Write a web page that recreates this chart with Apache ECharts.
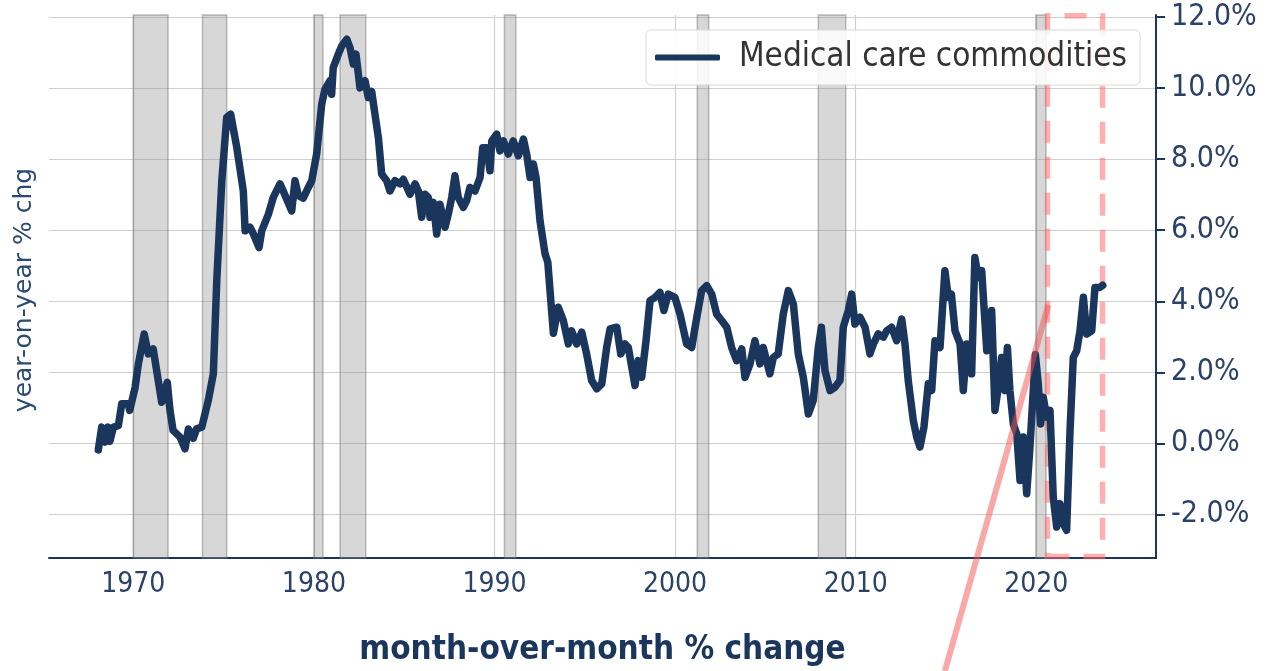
<!DOCTYPE html>
<html>
<head>
<meta charset="utf-8">
<script src="https://cdn.jsdelivr.net/npm/echarts@6/dist/echarts.min.js"></script>
<style>
  html, body { margin: 0; padding: 0; background: #fff; }
  #chart { width: 1270px; height: 671px; }
</style>
</head>
<body>
<div id="chart"></div>
<script>
// decimal year / yoy %
const years = [
  1968.06, 1968.25, 1968.43, 1968.6, 1968.7, 1968.9, 1969.17, 1969.36, 1969.72, 1969.8,
  1970.1, 1970.28, 1970.6, 1970.83, 1971.1, 1971.38, 1971.57, 1971.88, 1972.03, 1972.2,
  1972.59, 1972.86, 1973.05, 1973.32, 1973.5, 1973.79, 1974.15, 1974.43, 1974.62, 1974.9,
  1975.17, 1975.39, 1975.73, 1976.09, 1976.19, 1976.46, 1976.65, 1976.96, 1977.11, 1977.48,
  1977.75, 1978.12, 1978.3, 1978.77, 1978.95, 1979.14, 1979.41, 1979.69, 1979.88, 1980.15,
  1980.43, 1980.61, 1980.89, 1980.98, 1981.07, 1981.35, 1981.54, 1981.82, 1982.0, 1982.18,
  1982.33, 1982.55, 1982.83, 1983.01, 1983.2, 1983.38, 1983.57, 1983.75, 1984.03, 1984.21,
  1984.49, 1984.77, 1984.95, 1985.32, 1985.6, 1985.78, 1985.97, 1986.15, 1986.33, 1986.43,
  1986.61, 1986.8, 1986.98, 1987.26, 1987.44, 1987.63, 1987.81, 1987.99, 1988.27, 1988.46,
  1988.64, 1988.92, 1989.2, 1989.35, 1989.57, 1989.75, 1989.85, 1990.12, 1990.3, 1990.49,
  1990.76, 1991.04, 1991.32, 1991.6, 1991.78, 1991.97, 1992.15, 1992.3, 1992.52, 1992.8,
  1992.95, 1993.26, 1993.53, 1993.81, 1994.09, 1994.27, 1994.55, 1994.83, 1995.1, 1995.38,
  1995.66, 1995.94, 1996.21, 1996.4, 1996.77, 1996.99, 1997.23, 1997.41, 1997.78, 1997.96,
  1998.15, 1998.39, 1998.61, 1998.89, 1999.16, 1999.38, 1999.62, 1999.99, 2000.27, 2000.64,
  2000.92, 2001.2, 2001.47, 2001.75, 2002.03, 2002.3, 2002.58, 2002.86, 2003.13, 2003.41,
  2003.69, 2003.87, 2004.15, 2004.42, 2004.7, 2004.88, 2005.25, 2005.44, 2005.71, 2005.99,
  2006.27, 2006.55, 2006.82, 2007.1, 2007.38, 2007.65, 2007.93, 2008.1, 2008.3, 2008.58,
  2008.85, 2009.13, 2009.31, 2009.59, 2009.78, 2009.96, 2010.24, 2010.52, 2010.79, 2010.98,
  2011.25, 2011.53, 2011.72, 2011.99, 2012.27, 2012.55, 2012.73, 2012.91, 2013.19, 2013.38,
  2013.56, 2013.78, 2014.02, 2014.21, 2014.39, 2014.67, 2014.94, 2015.13, 2015.3, 2015.5,
  2015.78, 2015.96, 2016.15, 2016.42, 2016.6, 2016.79, 2016.98, 2017.07, 2017.26, 2017.53,
  2017.71, 2017.9, 2018.08, 2018.27, 2018.4, 2018.54, 2018.73, 2018.92, 2019.1, 2019.28,
  2019.47, 2019.65, 2019.95, 2020.11, 2020.24, 2020.39, 2020.57, 2020.76, 2020.94, 2021.13,
  2021.31, 2021.5, 2021.68, 2021.87, 2022.05, 2022.24, 2022.42, 2022.61, 2022.79, 2023.07,
  2023.25, 2023.53, 2023.68
]
const yoy = [
  -0.18, 0.46, 0.04, 0.46, 0.06, 0.46, 0.5, 1.12, 1.12, 0.93,
  1.58, 2.24, 3.08, 2.52, 2.66, 1.77, 1.16, 1.72, 0.93, 0.37,
  0.18, -0.15, 0.41, 0.15, 0.41, 0.46, 1.21, 1.96, 4.58, 7.39,
  9.17, 9.26, 8.32, 7.1, 5.98, 6.08, 5.89, 5.51, 5.98, 6.45,
  6.92, 7.3, 7.1, 6.54, 7.39, 6.97, 6.9, 7.2, 7.39, 8.14,
  9.54, 9.96, 10.2, 9.82, 10.57, 10.95, 11.18, 11.37, 11.13, 10.67,
  10.95, 10.0, 10.2, 9.73, 9.9, 9.26, 8.6, 7.58, 7.39, 7.1,
  7.39, 7.3, 7.43, 7.01, 7.3, 7.1, 6.36, 7.01, 6.92, 6.36,
  6.78, 5.89, 6.73, 6.08, 6.45, 6.92, 7.53, 6.92, 6.64, 6.83,
  7.2, 7.1, 7.48, 8.32, 8.32, 7.67, 8.51, 8.7, 8.23, 8.51,
  8.14, 8.51, 8.09, 8.56, 8.14, 7.48, 7.86, 7.48, 6.26, 5.33,
  5.1, 3.1, 3.83, 3.46, 2.8, 3.17, 2.8, 3.13, 2.52, 1.77,
  1.54, 1.68, 2.7, 3.22, 3.27, 2.52, 2.8, 2.7, 1.63, 2.33,
  1.86, 2.89, 4.02, 4.11, 4.25, 3.74, 4.2, 4.11, 3.64, 2.8,
  2.7, 3.55, 4.3, 4.44, 4.2, 3.64, 3.46, 3.27, 2.7, 2.33,
  2.66, 1.86, 2.24, 2.89, 2.24, 2.7, 1.96, 2.42, 2.52, 3.64,
  4.3, 3.92, 2.52, 1.86, 0.83, 1.21, 2.7, 3.27, 2.05, 1.49,
  1.58, 1.77, 3.27, 3.74, 4.2, 3.36, 3.55, 3.27, 2.52, 2.8,
  3.08, 2.99, 3.17, 3.27, 2.89, 3.5, 2.8, 1.77, 0.65, 0.18,
  -0.1, 0.46, 1.68, 1.49, 2.89, 2.7, 4.86, 4.11, 4.2, 3.17,
  2.8, 1.49, 2.8, 1.96, 5.23, 4.67, 4.86, 4.11, 2.61, 3.74,
  0.93, 1.58, 2.42, 1.49, 2.7, 1.49, 0.55, 0.27, -1.04, 0.18,
  -1.41, -0.1, 2.5, 1.68, 0.55, 1.3, 0.74, 0.93, -1.51, -2.35,
  -1.69, -2.26, -2.44, 0.37, 2.42, 2.61, 3.17, 4.11, 3.08, 3.17,
  4.39, 4.39, 4.45
]

// shaded recessions (start, end)
const recStart = [1970.0, 1973.83, 1980.0, 1981.45, 1990.55, 2001.23, 2007.93, 2019.98]
const recEnd = [1971.92, 1975.17, 1980.5, 1982.87, 1991.18, 2001.86, 2009.45, 2020.54]

const xTicks = [1970, 1980, 1990, 2000, 2010, 2020]
const yTicks = [-2, 0, 2, 4, 6, 8, 10, 12]

// highlight box + pointer line
const boxX = [2020.62, 2023.67]
const boxY = [-3.18, 12.03]
const pointerX = [2020.67, 2014.94]
const pointerY = [3.9, -6.4]

const navy = '#1b365d'
const tickColor = '#2b4168'
const narrow = "'DejaVu Sans Condensed', 'DejaVu Sans', sans-serif"

const chart = echarts.init(document.getElementById('chart'))

const option = {
  animation: false,
  grid: { left: 49, right: 114, top: 15, bottom: 113, outerBoundsMode: 'none' },
  legend: {
    data: ['Medical care commodities'],
    left: 646,
    top: 30,
    icon: 'roundRect',
    itemWidth: 65,
    itemHeight: 6,
    padding: [11, 13, 11, 9],
    borderColor: '#d9d9d9',
    borderWidth: 1,
    borderRadius: 5,
    backgroundColor: 'rgba(255,255,255,0.85)',
    textStyle: {
      fontFamily: narrow,
      fontSize: 33,
      color: '#333',
      padding: [0, 0, 0, 14]
    }
  },
  xAxis: {
    type: 'value',
    min: 1965.33,
    max: 2026.63,
    name: 'month-over-month % change',
    nameLocation: 'middle',
    nameGap: 76,
    nameTextStyle: {
      fontFamily: narrow,
      fontWeight: 'bold',
      fontSize: 33,
      color: navy
    },
    axisLine: { onZero: false, lineStyle: { color: navy, width: 2 } },
    axisTick: { show: false, customValues: xTicks },
    axisLabel: {
      customValues: xTicks,
      margin: 13,
      fontFamily: narrow,
      fontSize: 28,
      color: tickColor,
      formatter: v => String(v)
    },
    splitLine: { show: true, lineStyle: { color: '#cfcfcf', width: 1.2 } }
  },
  yAxis: {
    type: 'value',
    position: 'right',
    min: -3.22,
    max: 12.05,
    axisLine: { show: true, lineStyle: { color: navy, width: 2 } },
    axisTick: { show: true, length: 9, customValues: yTicks, lineStyle: { color: navy, width: 2 } },
    axisLabel: {
      customValues: yTicks,
      margin: 15,
      fontFamily: narrow,
      fontSize: 30,
      color: tickColor,
      formatter: v => v.toFixed(1) + '%'
    },
    splitLine: { show: true, lineStyle: { color: '#cfcfcf', width: 1.2 } }
  },
  series: [
    {
      name: 'recessions',
      type: 'line',
      data: [],
      z: 1,
      silent: true,
      markArea: {
        silent: true,
        itemStyle: {
          color: 'rgba(140,140,140,0.35)',
          borderColor: 'rgba(110,110,110,0.45)',
          borderWidth: 1.5
        },
        data: recStart.map((s, i) => [{ xAxis: s }, { xAxis: recEnd[i] }])
      }
    },
    {
      name: 'Medical care commodities',
      type: 'line',
      z: 3,
      symbol: 'none',
      data: years.map((y, i) => [y, yoy[i]]),
      lineStyle: { color: navy, width: 7.5, join: 'round', cap: 'round' },
      itemStyle: { color: navy }
    },
    {
      name: 'box',
      type: 'line',
      data: [],
      z: 4,
      silent: true,
      markArea: {
        silent: true,
        itemStyle: {
          color: 'rgba(0,0,0,0)',
          borderColor: 'rgba(255,110,110,0.55)',
          borderWidth: 5.5,
          borderType: [22, 14]
        },
        data: [[{ coord: [boxX[0], boxY[0]] }, { coord: [boxX[1], boxY[1]] }]]
      }
    },
    {
      name: 'pointer',
      type: 'line',
      z: 5,
      clip: false,
      silent: true,
      symbol: 'none',
      data: pointerX.map((x, i) => [x, pointerY[i]]),
      lineStyle: { color: 'rgba(245,80,80,0.5)', width: 6 }
    }
  ],
  graphic: [{
    type: 'text',
    x: 24,
    y: 290,
    rotation: Math.PI / 2,
    style: {
      x: 0,
      y: 0,
      text: 'year-on-year % chg',
      align: 'center',
      verticalAlign: 'middle',
      font: "25px 'DejaVu Sans', sans-serif",
      fill: '#2b4a72'
    }
  }]
}

chart.setOption(option)
</script>
</body>
</html>
